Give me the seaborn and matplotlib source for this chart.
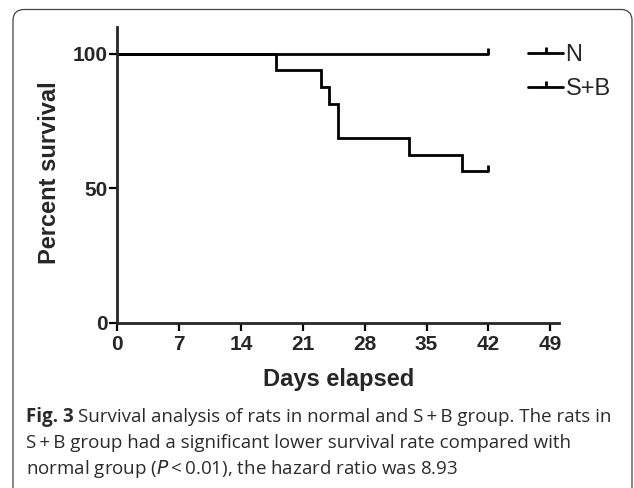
import pandas as pd
import seaborn as sns
import matplotlib.pyplot as plt
from matplotlib.lines import Line2D
from matplotlib.patches import FancyBboxPatch
from matplotlib import font_manager

#%% data
groups = ['N', 'S+B']
n_days = [0, 42]
n_surv = [100, 100]
sb_days = [0, 18, 23, 24, 25, 33, 39, 42]
sb_surv = [100, 93.75, 87.5, 81.25, 68.75, 62.5, 56.25, 56.25]
# censored at end of study
cens_days = [42, 42]
cens_surv = [100, 56.25]
x_ticks = [0, 7, 14, 21, 28, 35, 42, 49]
y_ticks = [0, 50, 100]

caption = [
    ("Fig. 3", "Survival analysis of rats in normal and S\u2009+\u2009B group. The rats in"),
    ("", "S\u2009+\u2009B group had a significant lower survival rate compared with"),
    ("", "normal group ($\\it{P}$\u2009<\u20090.01), the hazard ratio was 8.93"),
]

df = pd.concat([
    pd.DataFrame({'Days': n_days, 'Survival': n_surv, 'Group': 'N'}),
    pd.DataFrame({'Days': sb_days, 'Survival': sb_surv, 'Group': 'S+B'}),
])

#%% plot
sns.set_style('ticks')
plt.rcParams['font.family'] = ['Liberation Sans', 'DejaVu Sans']

fig = plt.figure(figsize=(6.34, 4.88), dpi=100)
ax = fig.add_axes([0.185, 0.3387, 0.697, 0.6066])

sns.lineplot(data=df, x='Days', y='Survival', hue='Group', palette=['black', 'black'],
             drawstyle='steps-post', linewidth=2, legend=False, ax=ax, errorbar=None)
for l in ax.lines:
    l.set_solid_joinstyle('miter')
ax.plot(cens_days, cens_surv, marker=2, ms=4, mew=2, color='black', ls='none')

ax.set_xlim(0, 50)
ax.set_ylim(0, 110)
ax.set_xticks(x_ticks)
ax.set_yticks(y_ticks)
sns.despine(ax=ax)
for s in ['left', 'bottom']:
    ax.spines[s].set_linewidth(2)
ax.tick_params(axis='both', length=6, width=1.6, labelsize=15, color='black')
ax.tick_params(axis='x', pad=2.5)
ax.tick_params(axis='y', pad=1)
for lab in ax.get_xticklabels() + ax.get_yticklabels():
    lab.set_fontweight('bold')

ax.set_xlabel('Days elapsed', fontsize=17, fontweight='bold')
ax.set_ylabel('Percent survival', fontsize=17, fontweight='bold')
ax.xaxis.set_label_coords(0.5, -0.153)
ax.yaxis.set_label_coords(-0.127, 0.507)

handles = [Line2D([], [], color='black', lw=2, marker=2, ms=4, mew=2) for g in groups]
fig.legend(handles, groups, loc='upper left', bbox_to_anchor=(0.833, 0.910), frameon=False,
           fontsize=17, handlelength=1.48, handletextpad=0.1, labelspacing=0.51,
           borderpad=0, borderaxespad=0)

# frame around figure + caption
fig.patches.append(FancyBboxPatch((13, -30), 619, 488 - 9.5 + 30, transform=None,
                                  boxstyle='round,pad=0,rounding_size=11',
                                  fill=False, edgecolor='#444444', linewidth=0.9))

# caption, fitted to the line width of the original
names = {f.name for f in font_manager.fontManager.ttflist}
cap_font = 'Liberation Sans Narrow' if 'Liberation Sans Narrow' in names else 'Open Sans'
renderer = fig.canvas.get_renderer()
x0, x1 = 26, 615
base = [422, 448, 474]

def draw_line(y, bold, rest, size):
    x = x0
    if bold:
        t = fig.text(x / 634, 1 - y / 488, bold, fontsize=size, fontweight='bold',
                     family=cap_font, color='#2b2b2b', va='baseline')
        x = t.get_window_extent(renderer).x1 + size * 0.35
    t2 = fig.text(x / 634, 1 - y / 488, rest, fontsize=size, family=cap_font,
                  color='#2b2b2b', va='baseline')
    return t2.get_window_extent(renderer).x1

probe = draw_line(base[0], caption[0][0], caption[0][1], 14)
for t in list(fig.texts):
    t.remove()
size = 14 * (x1 - x0) / (probe - x0)
for y, (bold, rest) in zip(base, caption):
    draw_line(y, bold, rest, size)

fig.savefig('out.png', dpi=100)
